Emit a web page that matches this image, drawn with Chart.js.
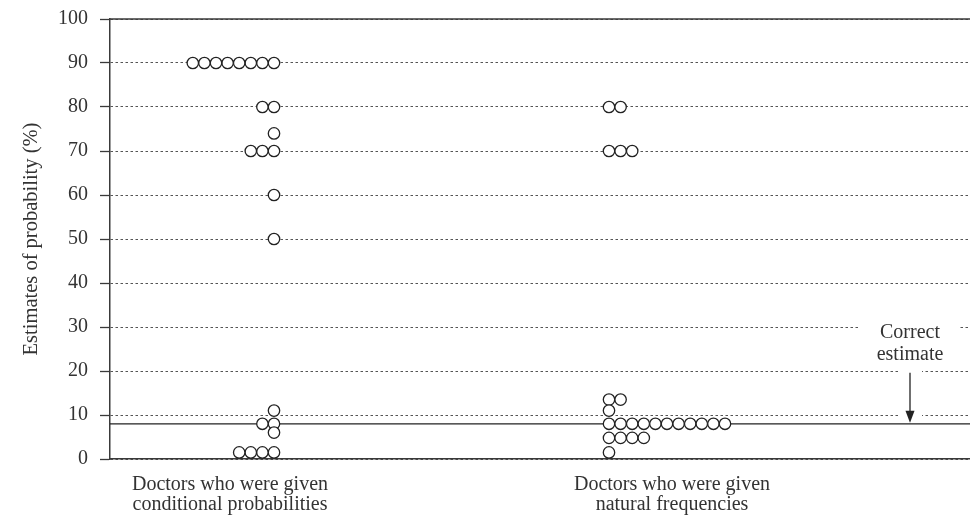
<!DOCTYPE html>
<html>
<head>
<meta charset="utf-8">
<script src="https://cdn.jsdelivr.net/npm/chart.js@4/dist/chart.umd.min.js"></script>
<style>
  body { margin: 0; background: #fff; }
</style>
</head>
<body>
<canvas id="dots" width="970" height="519"></canvas>
<script>
// group labels on the x axis
const categories = [
    ['Doctors who were given', 'conditional probabilities'],
    ['Doctors who were given', 'natural frequencies']
];
// each doctor's estimate (%)
const conditionalValues = [90, 90, 90, 90, 90, 90, 90, 90, 80, 80, 74, 70, 70, 70, 60, 50,
    11, 8, 8, 6, 1.5, 1.5, 1.5, 1.5];
const naturalValues = [80, 80, 70, 70, 70, 13.5, 13.5, 11, 8, 8, 8, 8, 8, 8, 8, 8, 8, 8, 8,
    4.8, 4.8, 4.8, 4.8, 1.5];
const yTicks = [0, 10, 20, 30, 40, 50, 60, 70, 80, 90, 100];
const correctEstimate = 8;
const noteText = ['Correct', 'estimate'];

// layout (x runs 0..860 across the plot)
const X_MAX = 860;
const DOT_STEP = 11.6;
const groupAnchor = [164, 499];
const groupDir = [-1, 1];
const labelX = [120, 562];
const noteX = 800;
const FONT = "'Liberation Serif', 'Times New Roman', serif";
const INK = '#3a3a3a';

// dots with the same value get stacked side by side
function placeDots(values, anchor, dir) {
    var used = {};
    return values.map(function (v) {
        var k = used[v] || 0;
        used[v] = k + 1;
        return { x: anchor + dir * k * DOT_STEP, y: v };
    });
}

const notePlugin = {
    id: 'note',
    afterDatasetsDraw(chart) {
        const ctx = chart.ctx;
        const area = chart.chartArea;
        const x = chart.scales.x, y = chart.scales.y;
        const cx = x.getPixelForValue(noteX);
        ctx.save();
        // solid frame line at 100
        ctx.strokeStyle = INK;
        ctx.lineWidth = 1.5;
        ctx.beginPath();
        ctx.moveTo(area.left, y.getPixelForValue(100));
        ctx.lineTo(area.right, y.getPixelForValue(100));
        ctx.stroke();
        // clear grid behind label and arrow
        ctx.fillStyle = '#fff';
        var t1 = y.getPixelForValue(31), t2 = y.getPixelForValue(21.5);
        ctx.fillRect(cx - 50, t1, 98, t2 - t1);
        var a1 = y.getPixelForValue(21.5), a2 = y.getPixelForValue(9.2);
        ctx.fillRect(cx - 12, a1, 24, a2 - a1);
        // text
        ctx.fillStyle = '#333';
        ctx.font = '20px ' + FONT;
        ctx.textAlign = 'center';
        ctx.textBaseline = 'middle';
        ctx.fillText(noteText[0], cx, y.getPixelForValue(28.6));
        ctx.fillText(noteText[1], cx, y.getPixelForValue(23.6));
        // arrow down to the correct estimate
        var top = y.getPixelForValue(19.6), tip = y.getPixelForValue(correctEstimate);
        ctx.strokeStyle = '#222';
        ctx.lineWidth = 1.3;
        ctx.beginPath();
        ctx.moveTo(cx, top);
        ctx.lineTo(cx, tip - 10);
        ctx.stroke();
        ctx.fillStyle = '#222';
        ctx.beginPath();
        ctx.moveTo(cx - 4.5, tip - 13);
        ctx.lineTo(cx + 4.5, tip - 13);
        ctx.lineTo(cx, tip - 1);
        ctx.closePath();
        ctx.fill();
        ctx.restore();
    }
};

const dotStyle = {
    type: 'scatter',
    pointRadius: 5.7,
    pointBorderWidth: 1.3,
    pointBackgroundColor: '#fff',
    pointBorderColor: '#222',
    pointHoverRadius: 5.7
};

const ctx = document.getElementById('dots').getContext('2d');
const myChart = new Chart(ctx, {
    type: 'scatter',
    data: {
        datasets: [
            Object.assign({ label: 'conditional', data: placeDots(conditionalValues, groupAnchor[0], groupDir[0]) }, dotStyle),
            Object.assign({ label: 'natural', data: placeDots(naturalValues, groupAnchor[1], groupDir[1]) }, dotStyle),
            {
                type: 'line',
                label: 'correct',
                data: [{ x: 0, y: correctEstimate }, { x: X_MAX, y: correctEstimate }],
                borderColor: '#222',
                borderWidth: 1.3,
                pointRadius: 0,
                fill: false
            }
        ]
    },
    options: {
        responsive: false,
        animation: false,
        layout: { autoPadding: false, padding: { top: 19, right: 0, left: 0, bottom: 0 } },
        plugins: { legend: { display: false }, tooltip: { enabled: false } },
        scales: {
            x: {
                type: 'linear',
                min: 0,
                max: X_MAX,
                afterFit: function (scale) {
                    scale.height = 60;
                    scale.paddingLeft = 0;
                    scale.paddingRight = 0;
                },
                afterBuildTicks: function (scale) {
                    scale.ticks = labelX.map(function (v) { return { value: v }; });
                },
                grid: { drawOnChartArea: false, drawTicks: false },
                border: { display: true, color: INK, width: 1.5 },
                ticks: {
                    autoSkip: false,
                    maxRotation: 0,
                    padding: 16,
                    color: '#333',
                    font: { family: FONT, size: 20, lineHeight: 1.0 },
                    callback: function (v) { return categories[labelX.indexOf(v)]; }
                }
            },
            y: {
                min: 0,
                max: 100,
                afterFit: function (scale) {
                    scale.width = 110;
                    scale.paddingTop = 0;
                    scale.paddingBottom = 0;
                },
                afterBuildTicks: function (scale) {
                    scale.ticks = yTicks.map(function (v) { return { value: v }; });
                },
                grid: {
                    color: '#555',
                    lineWidth: 1,
                    tickLength: 10,
                    tickColor: INK,
                    tickWidth: 1.3
                },
                border: { display: true, color: INK, width: 1.5, dash: [2.5, 2.5] },
                ticks: {
                    padding: 12,
                    color: '#333',
                    font: { family: FONT, size: 20 }
                },
                title: {
                    display: true,
                    text: 'Estimates of probability (%)',
                    color: '#333',
                    font: { family: FONT, size: 20.5 },
                    padding: { top: 19, bottom: 0 }
                }
            }
        }
    },
    plugins: [notePlugin]
});
</script>
</body>
</html>
